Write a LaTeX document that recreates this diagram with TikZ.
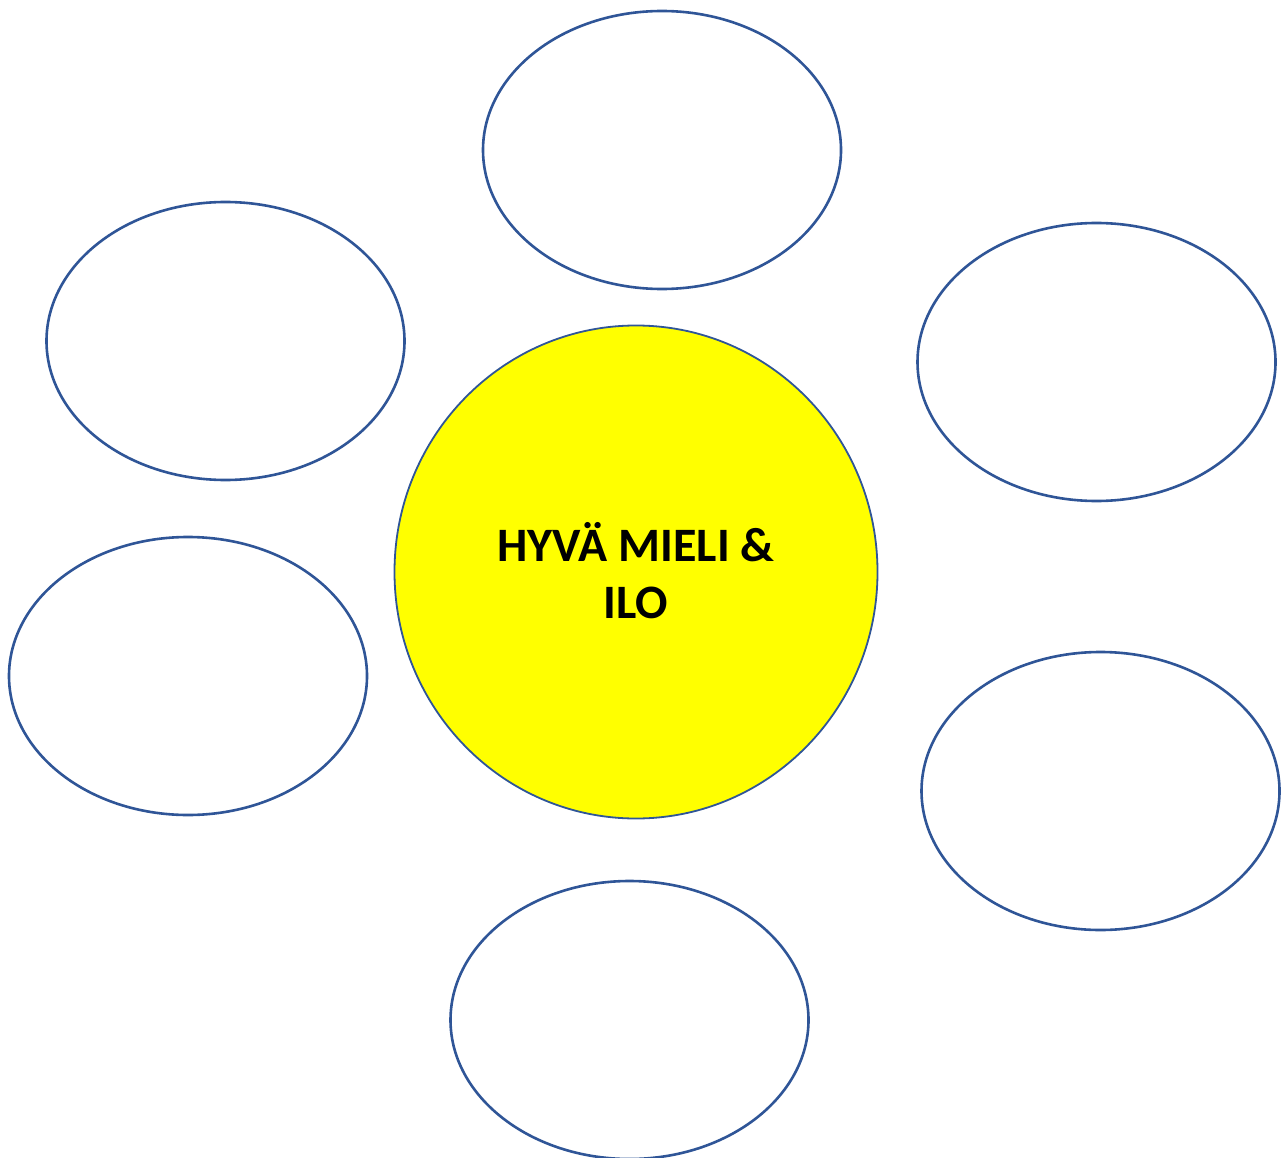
\documentclass[tikz,border=0pt]{standalone}
\usepackage{fontspec}
\setmainfont{Carlito}
\definecolor{ringblue}{HTML}{2F5597}
\definecolor{hubyellow}{RGB}{255,255,0}
\begin{document}
\begin{tikzpicture}[x=1pt,y=-1pt,
  bubble/.style={draw=ringblue,line width=2.6pt,fill=white},
  hub/.style={draw=ringblue,line width=1.8pt,fill=hubyellow}]
\useasboundingbox (0,0) rectangle (1284,1158);
\begin{scope}
\clip (0,0) rectangle (1284,1158);
\draw[bubble] (662,150) ellipse [x radius=179,y radius=139];
\draw[bubble] (225.5,341) ellipse [x radius=179,y radius=139];
\draw[bubble] (1096.5,362) ellipse [x radius=179,y radius=139];
\draw[bubble] (188,676) ellipse [x radius=179,y radius=139];
\draw[bubble] (1100.5,791) ellipse [x radius=179,y radius=139];
\draw[bubble] (629.5,1020) ellipse [x radius=179,y radius=139];
\draw[hub] (636,572) ellipse [x radius=241.5,y radius=246.5];
\end{scope}
\node[font=\bfseries\fontsize{48}{58}\selectfont,anchor=base] (t1) at (636,561) {HYVÄ MIELI \&};
\node[font=\bfseries\fontsize{48}{58}\selectfont,anchor=base] (t2) at (636,618) {ILO};
\end{tikzpicture}
\end{document}
